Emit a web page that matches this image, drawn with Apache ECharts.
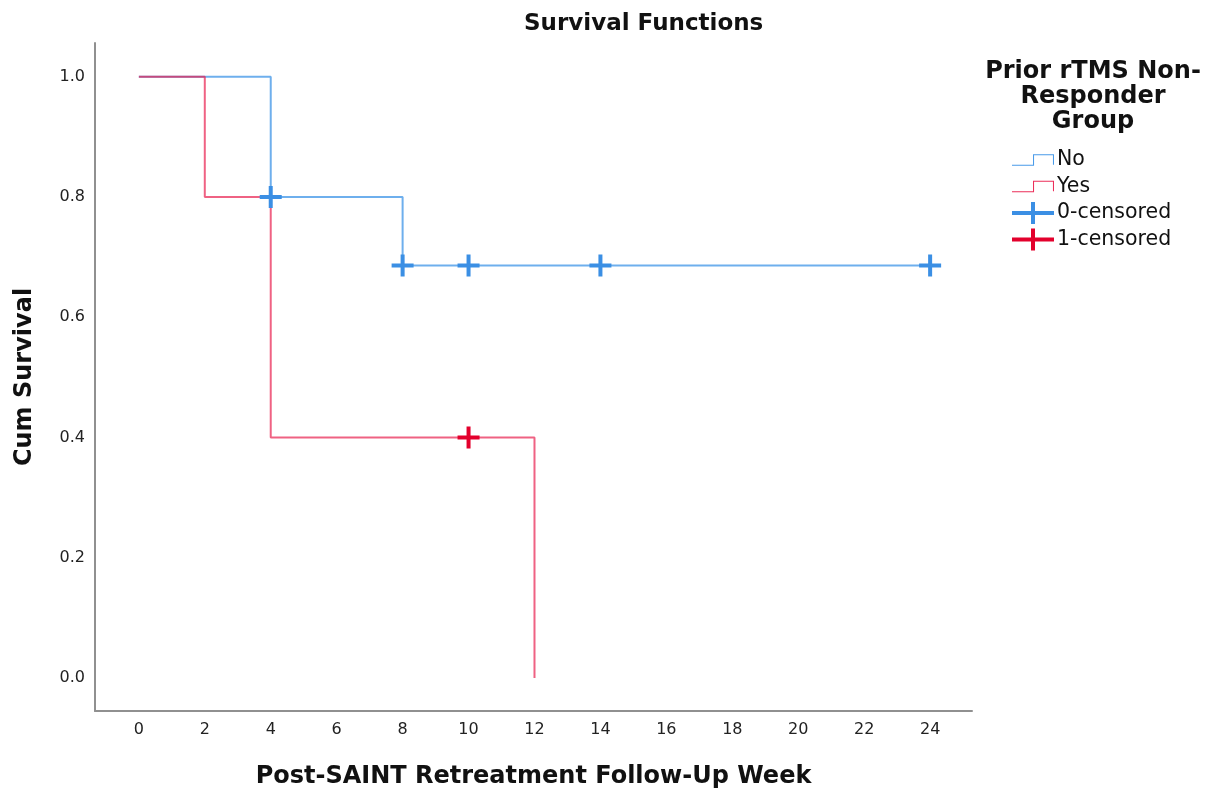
<!DOCTYPE html>
<html>
<head>
<meta charset="utf-8">
<script src="https://cdn.jsdelivr.net/npm/echarts@6/dist/echarts.min.js"></script>
<style>
  html, body { margin: 0; padding: 0; background: #fff; }
  #chart { width: 1207px; height: 794px; }
</style>
</head>
<body>
<div id="chart"></div>
<script>
// step points (week, cum survival) for each group
const weeksNo = [0, 4, 8, 24]
const survNo = [1.0, 0.8, 0.686, 0.686]
const weeksYes = [0, 2, 4, 12]
const survYes = [1.0, 0.8, 0.4, 0.0]

// censored cases
const censWeeksNo = [4, 8, 10, 14, 24]
const censSurvNo = [0.8, 0.686, 0.686, 0.686, 0.686]
const censWeeksYes = [10]
const censSurvYes = [0.4]

const xTicks = [0, 2, 4, 6, 8, 10, 12, 14, 16, 18, 20, 22, 24]
const yTicks = [0, 0.2, 0.4, 0.6, 0.8, 1.0]

const font = 'DejaVu Sans'
const plus = 'path://M9,0 H13 V9 H22 V13 H13 V22 H9 V13 H0 V9 H9 Z'
const plusWide = 'path://M19,0 H23 V9 H42 V13 H23 V22 H19 V13 H0 V9 H19 Z'
const stepIcon = 'path://M0,10 H20 V0 H40 V10 H39 V1 H21 V11 H0 Z'

const pairs = (xs, ys) => xs.map((x, i) => [x, ys[i]])

const chart = echarts.init(document.getElementById('chart'))

chart.setOption({
  animation: false,
  title: {
    text: 'Survival Functions',
    left: 519,
    top: 8,
    textStyle: { fontFamily: font, fontSize: 23, fontWeight: 'bold', color: '#111' }
  },
  graphic: [{
    type: 'text',
    x: 1093,
    y: 59,
    style: {
      text: 'Prior rTMS Non-\nResponder\nGroup',
      align: 'center',
      verticalAlign: 'top',
      fontFamily: font,
      fontSize: 24,
      fontWeight: 'bold',
      lineHeight: 25,
      fill: '#111'
    }
  }],
  legend: {
    orient: 'vertical',
    left: 1007,
    top: 144,
    itemWidth: 42,
    itemHeight: 22,
    itemGap: 4.5,
    symbolKeepAspect: true,
    textStyle: { fontFamily: font, fontSize: 20.5, lineHeight: 22, color: '#111', padding: [0, 0, 0, -2] },
    data: [
      { name: 'No', icon: stepIcon },
      { name: 'Yes', icon: stepIcon },
      { name: '0-censored', icon: plusWide },
      { name: '1-censored', icon: plusWide }
    ]
  },
  grid: { left: 95, right: 235, top: 43, bottom: 81 },
  xAxis: {
    type: 'value',
    min: -1.33,
    max: 25.27,
    name: 'Post-SAINT Retreatment Follow-Up Week',
    nameLocation: 'middle',
    nameGap: 54,
    nameTextStyle: { fontFamily: font, fontSize: 24, fontWeight: 'bold', color: '#111' },
    axisLine: { onZero: false, lineStyle: { color: '#909090', width: 2 } },
    axisTick: { show: false },
    splitLine: { show: false },
    axisLabel: {
      customValues: xTicks,
      margin: 11,
      fontFamily: font,
      fontSize: 16,
      color: '#222'
    }
  },
  yAxis: {
    type: 'value',
    min: -0.055,
    max: 1.056,
    name: 'Cum Survival',
    nameLocation: 'middle',
    nameGap: 58,
    nameTextStyle: { fontFamily: font, fontSize: 24, fontWeight: 'bold', color: '#111' },
    axisLine: { show: true, onZero: false, lineStyle: { color: '#909090', width: 2 } },
    axisTick: { show: false },
    splitLine: { show: false },
    axisLabel: {
      customValues: yTicks,
      margin: 10,
      fontFamily: font,
      fontSize: 16,
      color: '#222',
      formatter: v => v.toFixed(1)
    }
  },
  series: [
    {
      name: 'No',
      type: 'line',
      step: 'end',
      data: pairs(weeksNo, survNo),
      symbol: 'none',
      z: 2,
      itemStyle: { color: '#4a9be9' },
      lineStyle: { color: '#4a9be9', width: 2, opacity: 0.8 }
    },
    {
      name: 'Yes',
      type: 'line',
      step: 'end',
      data: pairs(weeksYes, survYes),
      symbol: 'none',
      z: 3,
      itemStyle: { color: '#ec2f5a' },
      lineStyle: { color: '#e8204e', width: 2, opacity: 0.7 }
    },
    {
      name: '0-censored',
      type: 'scatter',
      data: pairs(censWeeksNo, censSurvNo),
      symbol: plus,
      symbolSize: 22,
      z: 5,
      itemStyle: { color: '#3b8fe4', opacity: 1 }
    },
    {
      name: '1-censored',
      type: 'scatter',
      data: pairs(censWeeksYes, censSurvYes),
      symbol: plus,
      symbolSize: 22,
      z: 5,
      itemStyle: { color: '#e3002c', opacity: 1 }
    }
  ]
})

window.addEventListener('resize', () => chart.resize())
</script>
</body>
</html>
